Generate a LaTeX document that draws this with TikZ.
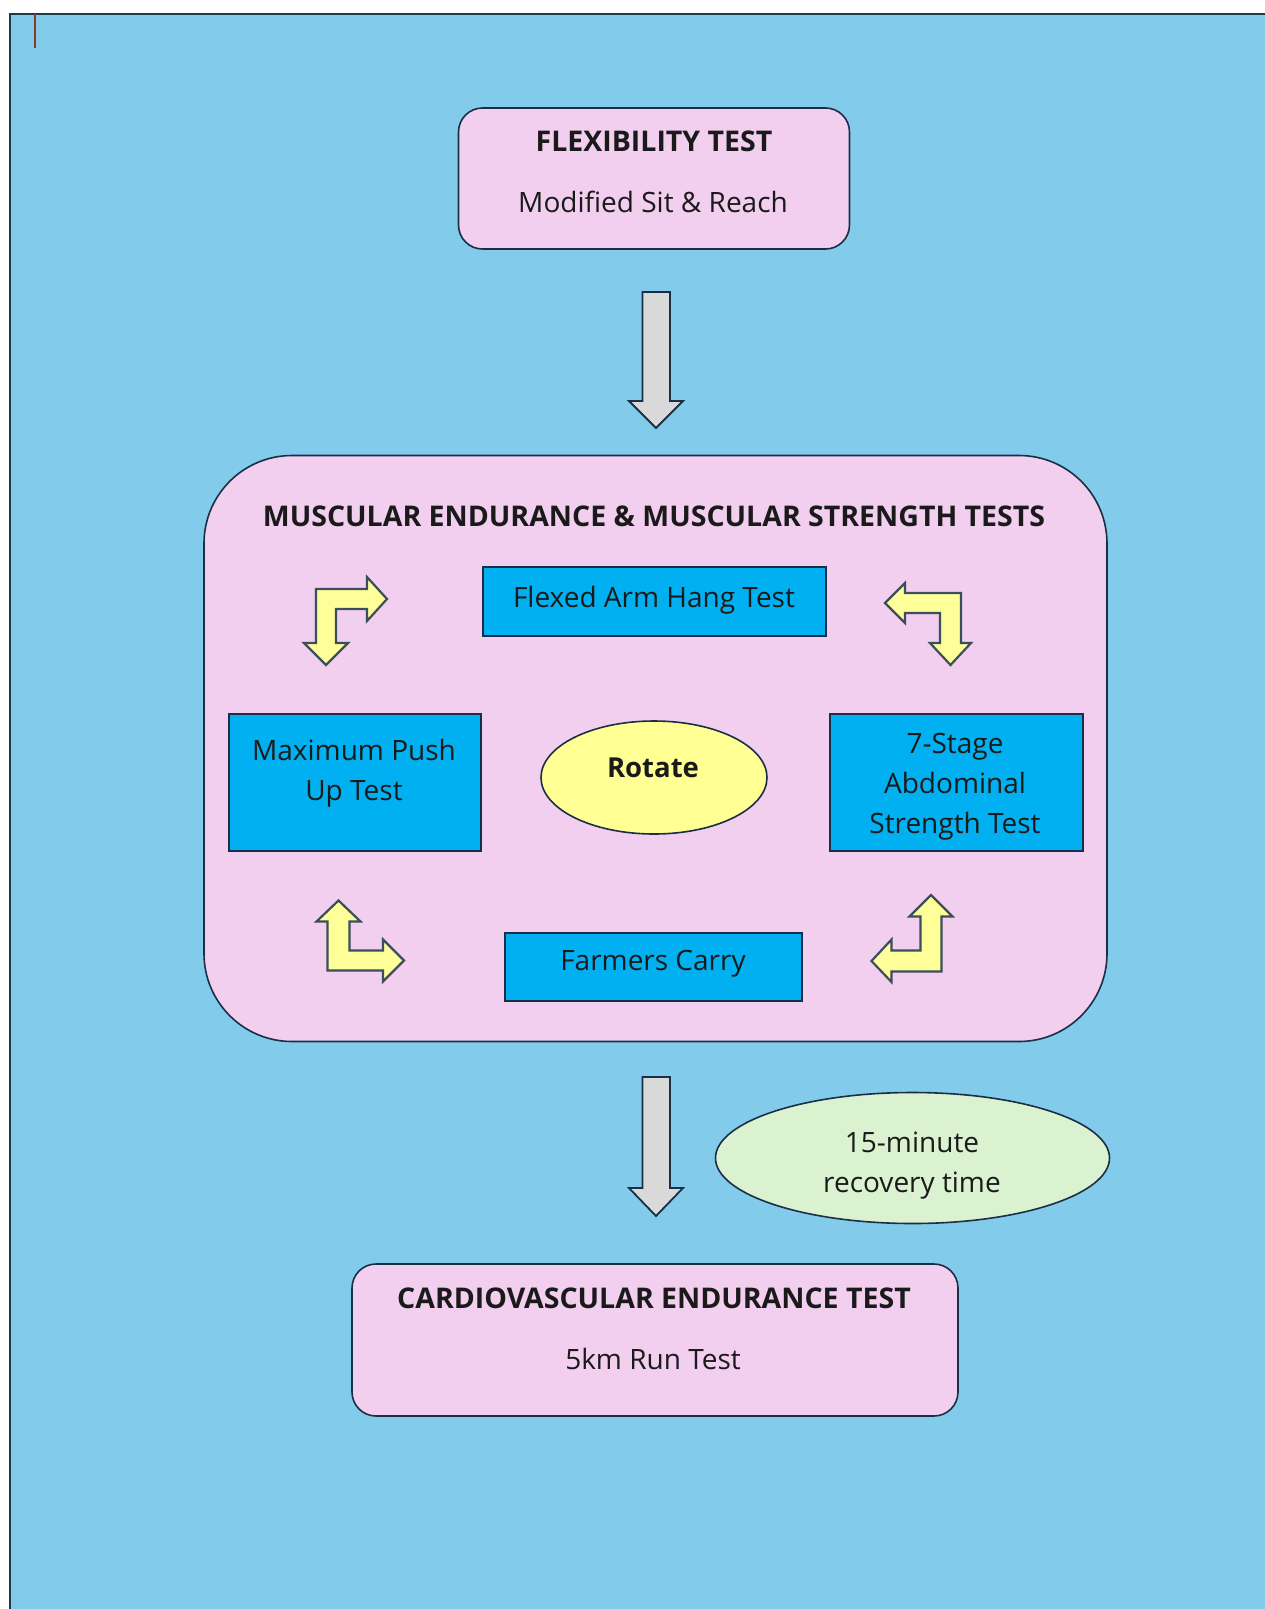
\documentclass[tikz,border=0pt]{standalone}
\usepackage{fontspec}
\setmainfont{Open Sans}
\usetikzlibrary{shapes.geometric}
\definecolor{bgC}{HTML}{83CBEB}
\definecolor{frameC}{HTML}{1B3A4B}
\definecolor{lineC}{HTML}{1A2F45}
\definecolor{pinkC}{HTML}{F2CEEF}
\definecolor{blueC}{HTML}{00B0F0}
\definecolor{yelC}{HTML}{FFFF93}
\definecolor{arrC}{HTML}{FFFF99}
\definecolor{arrLine}{HTML}{3A4E5C}
\definecolor{grayC}{HTML}{D9D9D9}
\definecolor{greenC}{HTML}{DAF2D0}
\definecolor{textC}{HTML}{1A1A1A}
\definecolor{cursorC}{HTML}{8B3A2A}
\newcommand{\regf}{\fontsize{28}{33}\selectfont}
\newcommand{\bldf}{\fontsize{28.5}{33}\selectfont\bfseries}
\newcommand{\rotf}{\fontsize{27.5}{32}\selectfont\bfseries}
\begin{document}
\begin{tikzpicture}[x=1pt,y=-1pt,
  pinkbox/.style={draw=lineC, line width=1.6pt, fill=pinkC, inner sep=0pt},
  bluebox/.style={draw=lineC, line width=1.6pt, fill=blueC, inner sep=0pt},
  oval/.style={ellipse, draw=lineC, line width=1.6pt, inner sep=0pt},
  bent/.style={draw=arrLine, line width=2.2pt, fill=arrC, line join=miter},
  blockarrow/.style={draw=lineC, line width=1.8pt, fill=grayC, line join=miter},
  rtxt/.style={font=\regf, text=textC, inner sep=0pt, anchor=base},
  btxt/.style={font=\bldf, text=textC, inner sep=0pt, anchor=base}]
\useasboundingbox (0,0) rectangle (1265,1609);
\clip (0,0) rectangle (1265,1609);
\fill[white] (0,0) rectangle (1265,1609);
\draw[draw=frameC, line width=2pt, fill=bgC] (9.5,13.5) rectangle (1290,1640);
\draw[cursorC, line width=2pt] (35,14) -- (35,48);

% Flexibility
\node[pinkbox, rounded corners=24pt, minimum width=391pt, minimum height=141pt] (flex) at (654,178.5) {};
\node[btxt] (flext) at (654,151) {FLEXIBILITY TEST};
\node[rtxt] (flexs) at (653,212) {Modified Sit \& Reach};

% Down arrow 1
\draw[blockarrow] (642.5,292) -- (670,292) -- (670,401) -- (683,401) -- (656,428) -- (629,401) -- (642.5,401) -- cycle;

% Big box
\node[pinkbox, rounded corners=88pt, minimum width=903pt, minimum height=586pt] (mus) at (655.5,748.5) {};
\node[btxt] (must) at (654,526) {MUSCULAR ENDURANCE \& MUSCULAR STRENGTH TESTS};

\node[bluebox, minimum width=343pt, minimum height=69pt] (fah) at (654.5,601.5) {};
\node[rtxt] at (654,607) {Flexed Arm Hang Test};

\node[bluebox, minimum width=252pt, minimum height=137pt] (push) at (355,782.5) {};
\node[rtxt] at (354,760) {Maximum Push};
\node[rtxt] at (354,800) {Up Test};

\node[oval, fill=yelC, minimum width=226pt, minimum height=113pt] (rot) at (654,777.5) {};
\node[btxt, font=\rotf] at (653,777) {Rotate};

\node[bluebox, minimum width=253pt, minimum height=137pt] (abs) at (956.5,782.5) {};
\node[rtxt] at (955,753) {7-Stage};
\node[rtxt] at (955,793) {Abdominal};
\node[rtxt] at (955,833) {Strength Test};

\node[bluebox, minimum width=297pt, minimum height=68pt] (farm) at (653.5,967) {};
\node[rtxt] at (653,970) {Farmers Carry};

% Bent arrows
\draw[bent] (316,589) -- (367,589) -- (367,577) -- (387,599) -- (367,621) -- (367,609) -- (336,609) -- (336,643) -- (348,643) -- (326,665) -- (304,643) -- (316,643) -- cycle;
\draw[bent] (885,603) -- (905,583) -- (905,593) -- (961,593) -- (961,643) -- (971,643) -- (950.5,665) -- (930,643) -- (940,643) -- (940,613) -- (905,613) -- (905,623) -- cycle;
\draw[bent] (338.5,900.5) -- (360.5,921.5) -- (349.5,921.5) -- (349.5,950.5) -- (383,950.5) -- (383,939.5) -- (404,960.5) -- (383,981.5) -- (383,970.5) -- (327.5,970.5) -- (327.5,921.5) -- (316.5,921.5) -- cycle;
\draw[bent] (931,895) -- (952.5,916.5) -- (941.5,916.5) -- (941.5,971.5) -- (891.5,971.5) -- (891.5,982) -- (871.5,961) -- (891.5,939.5) -- (891.5,950.5) -- (920.5,950.5) -- (920.5,916.5) -- (909.5,916.5) -- cycle;

% Down arrow 2
\draw[blockarrow] (642.5,1077) -- (670,1077) -- (670,1188) -- (683,1188) -- (656,1216) -- (629,1188) -- (642.5,1188) -- cycle;

% Recovery
\node[oval, fill=greenC, minimum width=394pt, minimum height=131pt] (rec) at (912.5,1158) {};
\node[rtxt] at (912,1152) {15-minute};
\node[rtxt] at (912,1192) {recovery time};

% Cardio
\node[pinkbox, rounded corners=24pt, minimum width=606pt, minimum height=152pt] (card) at (655,1340) {};
\node[btxt] at (654,1308) {CARDIOVASCULAR ENDURANCE TEST};
\node[rtxt] at (653,1369) {5km Run Test};
\end{tikzpicture}
\end{document}
